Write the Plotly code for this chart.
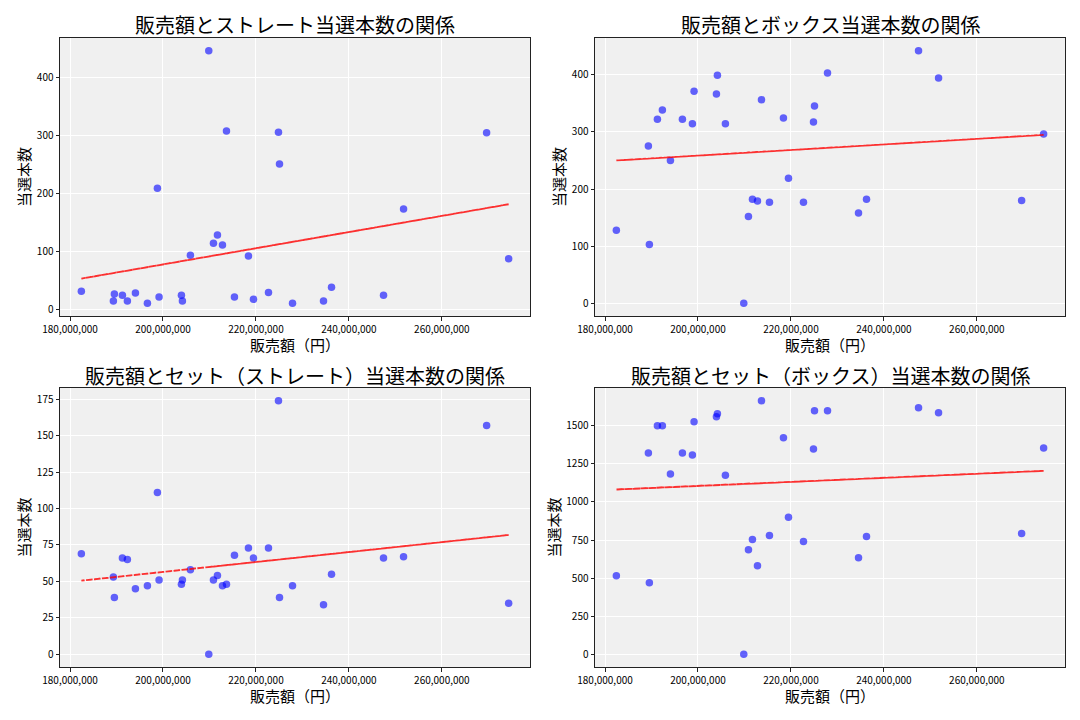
import numpy as np
import plotly.graph_objects as go

# Data (one entry per draw)
sales = [209850000, 189330000, 224850000, 198800000, 247450000, 192340000, 213660000,
         274370000, 204180000, 182440000, 218390000, 227870000, 194070000, 211720000,
         269630000, 189540000, 219470000, 199160000, 236260000, 210860000, 191270000,
         225070000, 203970000, 251760000, 215380000, 196650000, 234540000, 205900000,
         222700000, 212800000]
straight = [447, 14, 306, 209, 24, 14, 308, 87, 14, 31, 92, 10, 28, 128, 305, 26, 17,
            21, 38, 114, 24, 251, 24, 173, 21, 10, 14, 93, 29, 111]
box = [0, 275, 317, 314, 442, 338, 356, 296, 399, 128, 324, 403, 250, 182, 180, 103,
       219, 371, 182, 152, 322, 345, 366, 394, 177, 322, 158, 314, 177, 179]
set_straight = [0, 53, 174, 111, 66, 65, 48, 35, 51, 69, 73, 47, 45, 54, 157, 39, 66,
                51, 55, 51, 66, 39, 48, 67, 68, 47, 34, 58, 73, 47]
set_box = [0, 1322, 1348, 1308, 1619, 1500, 1665, 1355, 1579, 515, 1421, 1599, 1183,
           753, 793, 469, 899, 1526, 773, 687, 1500, 1599, 1559, 1586, 780, 1322, 634,
           1176, 740, 581]

titles = ["販売額とストレート当選本数の関係", "販売額とボックス当選本数の関係",
          "販売額とセット（ストレート）当選本数の関係", "販売額とセット（ボックス）当選本数の関係"]
series = [straight, box, set_straight, set_box]
ydticks = [100, 100, 25, 250]
x_tick_vals = [180000000, 200000000, 220000000, 240000000, 260000000]

OFF = 8  # page body margin
W, H = 1080 - OFF, 720 - OFF
FONT = "Noto Sans CJK JP"
# panel pixel boxes in page coordinates: (left, right, top, bottom)
boxes = [(60, 530, 38, 316), (595, 1065, 38, 316), (60, 530, 388, 667), (595, 1065, 388, 667)]
ylabel_x = [23, 558, 23, 553]


def px(v):
    return (v - OFF) / W


def py(v):
    return 1 - (v - OFF) / H


fig = go.Figure()
annotations = []
xs = np.array(sales, dtype=float)
xmin, xmax = xs.min(), xs.max()
xpad = (xmax - xmin) * 0.05

for i, (ys, title) in enumerate(zip(series, titles)):
    n = i + 1
    xa = "x" if n == 1 else f"x{n}"
    ya = "y" if n == 1 else f"y{n}"
    ysa = np.array(ys, dtype=float)
    fig.add_trace(go.Scatter(x=sales, y=ys, mode="markers", xaxis=xa, yaxis=ya,
                             marker=dict(color="rgba(0,0,255,0.6)", size=7.5, line=dict(width=0)),
                             showlegend=False))
    coef = np.polyfit(xs, ysa, 1)
    fit = np.polyval(coef, xs)
    fig.add_trace(go.Scatter(x=sales, y=fit, mode="lines", xaxis=xa, yaxis=ya,
                             line=dict(color="rgba(255,0,0,0.8)", width=1.8, dash="6px,2px"),
                             showlegend=False))
    l, r, t, b = boxes[i]
    ymin, ymax = ysa.min(), ysa.max()
    ypad = (ymax - ymin) * 0.05
    axis_common = dict(showgrid=True, gridcolor="white", gridwidth=1, zeroline=False,
                       showline=True, linecolor="#222", linewidth=1, mirror=True,
                       ticks="outside", ticklen=3.5, tickcolor="#222",
                       tickfont=dict(family=FONT, size=10, color="#000"), automargin=False)
    fig.update_layout(**{
        ("xaxis" if n == 1 else f"xaxis{n}"): dict(
            domain=[px(l), px(r)], anchor=ya, range=[xmin - xpad, xmax + xpad],
            tickmode="array", tickvals=x_tick_vals, tickformat=",.0f", **axis_common),
        ("yaxis" if n == 1 else f"yaxis{n}"): dict(
            domain=[py(b), py(t)], anchor=xa, range=[ymin - ypad, ymax + ypad],
            tick0=0, dtick=ydticks[i], **axis_common),
    })
    cx = (l + r) / 2
    annotations.append(dict(text=title, x=px(cx), y=py(t - 13), xref="paper", yref="paper",
                            xanchor="center", yanchor="middle", showarrow=False,
                            font=dict(family=FONT, size=20, color="#000")))
    annotations.append(dict(text="販売額（円）", x=px(cx), y=py(b + 28), xref="paper",
                            yref="paper", xanchor="center", yanchor="middle", showarrow=False,
                            font=dict(family=FONT, size=15, color="#000")))
    annotations.append(dict(text="当選本数", x=px(ylabel_x[i]), y=py((t + b) / 2),
                            xref="paper", yref="paper", xanchor="center", yanchor="middle",
                            textangle=-90, showarrow=False,
                            font=dict(family=FONT, size=15, color="#000")))

fig.update_layout(width=W, height=H, margin=dict(l=0, r=0, t=0, b=0),
                  paper_bgcolor="white", plot_bgcolor="#f0f0f0",
                  annotations=annotations, font=dict(family=FONT))
fig.write_html("out.html")
